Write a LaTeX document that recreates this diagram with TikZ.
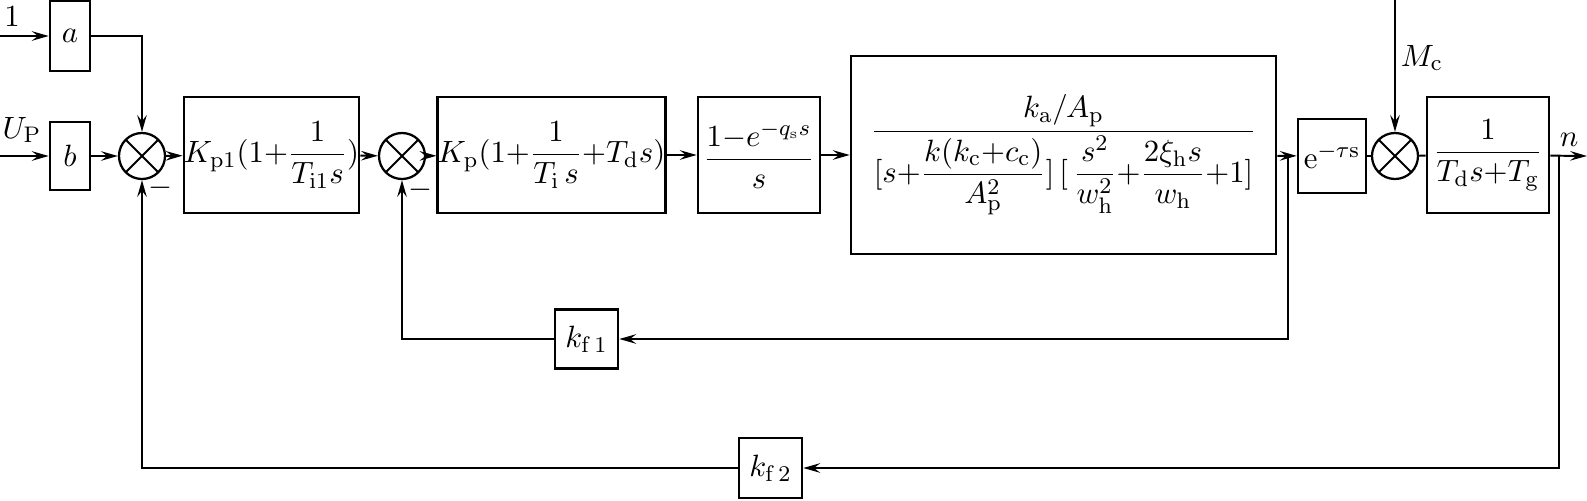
\documentclass[tikz,border=0pt]{standalone}
\usepackage{amsmath}
\usetikzlibrary{arrows.meta}
\tikzset{>={Stealth[length=6pt,width=3.4pt,inset=2.2pt]}}
\tikzset{
	blk/.style={draw, line width=0.9pt, inner sep=0pt},
	sumj/.style={draw, circle, line width=0.8pt, minimum size=0.575cm, inner sep=0pt,
			path picture={
					\draw[line width=0.7pt] (path picture bounding box.north west) -- (path picture bounding box.south east);
					\draw[line width=0.7pt] (path picture bounding box.north east) -- (path picture bounding box.south west);
				}}
}
\newcommand{\tp}{\mathord{+}}
\newcommand{\tm}{\mathord{-}}

\begin{document}
\begin{tikzpicture}[x=0.0125cm, y=-0.0125cm, line width=0.7pt, font=\fontsize{11}{13}\selectfont]
	\useasboundingbox (0,0) rectangle (1587,501);

	\node[blk, minimum width=0.5cm, minimum height=0.875cm] (a) at (70,36) {$a$};
	\node[blk, minimum width=0.5cm, minimum height=0.85cm] (b) at (70,156) {$b$};
	\node[sumj] (s1) at (142,156) {};
	\node[blk, minimum width=2.0875cm, minimum height=1.45cm] (pi) at (271.5,155) {$K_{\mathrm{p1}}(1\tp\dfrac{1}{T_{\mathrm{i1}}s})$};
	\node[sumj] (s2) at (402,156) {};
	\node[blk, minimum width=2.8125cm, minimum height=1.45cm] (pid) at (551.5,155) {$K_{\mathrm{p}}(1\tp\dfrac{1}{T_{\mathrm{i}}\,s}\tp T_{\mathrm{d}}s)$};
	\node[blk, minimum width=1.525cm, minimum height=1.45cm] (zoh) at (759,155) {$\dfrac{1\tm e^{-q_{\mathrm{s}}s}}{s}$};
	\node[blk, minimum width=5.3125cm, minimum height=2.475cm] (plant) at (1063.5,155) {$\dfrac{k_{\mathrm{a}}/A_{\mathrm{p}}}{[s\tp\dfrac{k(k_{\mathrm{c}}\tp c_{\mathrm{c}})}{A_{\mathrm{p}}^2}]\,[\,\dfrac{s^2}{w_{\mathrm{h}}^2}\tp\dfrac{2\xi_{\mathrm{h}}s}{w_{\mathrm{h}}}\tp1]}$};
	\node[blk, minimum width=0.85cm, minimum height=0.925cm] (delay) at (1332,156) {$\mathrm{e}^{-\tau\mathrm{s}}$};
	\node[sumj] (s3) at (1395,156) {};
	\node[blk, minimum width=1.525cm, minimum height=1.45cm] (motor) at (1488,155) {$\dfrac{1}{T_{\mathrm{d}}s\tp T_{\mathrm{g}}}$};
	\node[blk, minimum width=0.7875cm, minimum height=0.74cm] (kf1) at (586.5,339) {$k_{\mathrm{f\,1}}$};
	\node[blk, minimum width=0.7875cm, minimum height=0.75cm] (kf2) at (770.5,468) {$k_{\mathrm{f\,2}}$};

	\coordinate (in1) at (0,36);
	\coordinate (in2) at (0,156);
	\coordinate (mc) at (1395,0);
	\coordinate (out) at (1587,156);
	\coordinate (br1) at (1288,156);
	\coordinate (br2) at (1559,156);

	\node (one) at (12,17) {$1$};
	\node (up) at (22,130) {$U_{\mathrm{P}}$};
	\node[anchor=west, inner sep=0pt] (mclab) at (1400,58) {$M_{\mathrm{c}}$};
	\node (nlab) at (1569,140) {$n$};
	\node (m1) at (160,188) {$-$};
	\node (m2) at (420,190) {$-$};

	\draw[->] (in1) -- (a);
	\draw[->] (in2) -- (b);
	\draw[->] (a) -| (s1);
	\draw[->] (b) -- (s1);
	\draw[->] (s1) -- (pi);
	\draw[->] (pi) -- (s2);
	\draw[->] (s2) -- (pid);
	\draw[->] (pid) -- (zoh);
	\draw[->] (zoh) -- (plant);
	\draw[->] (plant) -- (delay);
	\draw (delay) -- (s3);
	\draw (s3) -- (motor);
	\draw[->] (mc) -- (s3);
	\draw[->] (motor) -- (out);
	\draw[->] (br1) |- (kf1);
	\draw[->] (kf1) -| (s2);
	\draw[->] (br2) |- (kf2);
	\draw[->] (kf2) -| (s1);
\end{tikzpicture}
\end{document}
